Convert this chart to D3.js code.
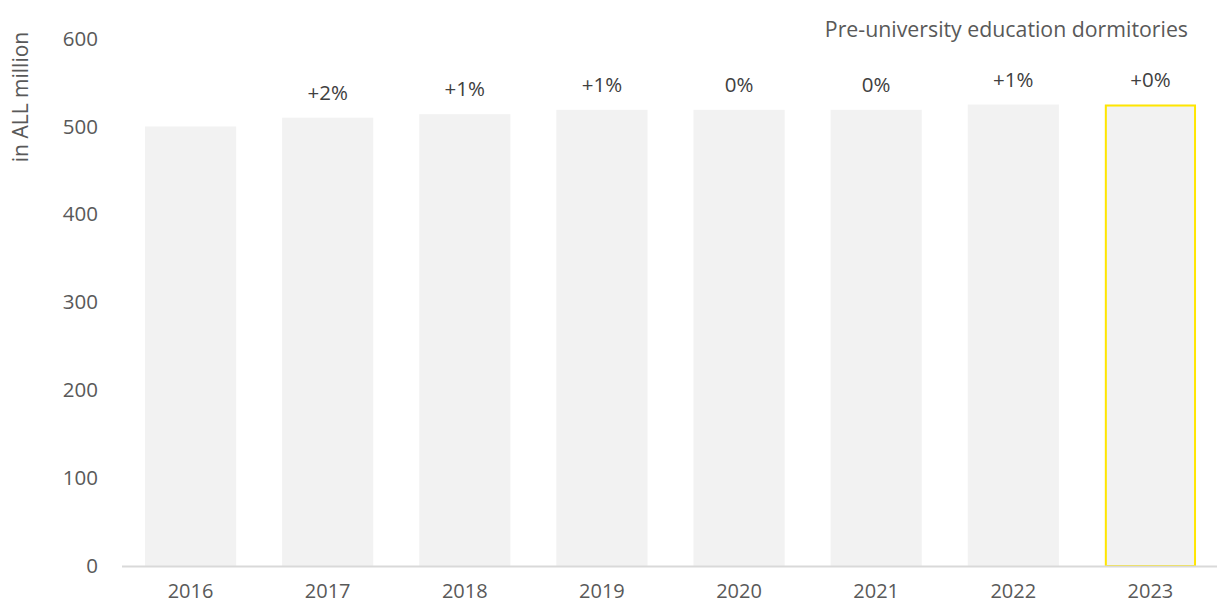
<!DOCTYPE html>
<html>
<head>
<meta charset="utf-8">
<script src="https://cdn.jsdelivr.net/npm/d3@7"></script>
<style>
  html, body { margin: 0; padding: 0; background: #fff; }
  svg { display: block; font-family: "Open Sans", "Noto Sans", sans-serif; }
</style>
</head>
<body>
<svg id="chart" width="1217" height="606"></svg>
<script>
// Annual spending on pre-university education dormitories
const years = ["2016", "2017", "2018", "2019", "2020", "2021", "2022", "2023"];
const values = [500, 510, 514, 519, 519, 519, 525, 525];
const changeLabels = ["", "+2%", "+1%", "+1%", "0%", "0%", "+1%", "+0%"];
const yTicks = [0, 100, 200, 300, 400, 500, 600];
const highlightYear = "2023";

const FONT = "'Open Sans', 'Noto Sans', sans-serif";
const FS = 20.5;

const svg = d3.select("#chart");
const margin = { left: 122 };
const W = 1217;

const x = d3.scaleBand()
  .domain(years)
  .range([margin.left, 1219])
  .paddingInner(0.335)
  .paddingOuter(0.1675);

const y = d3.scaleLinear()
  .domain([0, 600])
  .range([566, 38.6]);

// Bars
svg.append("g")
  .selectAll("rect")
  .data(years)
  .join("rect")
  .attr("x", d => x(d))
  .attr("width", x.bandwidth())
  .attr("y", (d, i) => y(values[i]))
  .attr("height", (d, i) => y(0) - y(values[i]))
  .attr("fill", "#f2f2f2");

// Highlight outline on the latest year
const hi = years.indexOf(highlightYear);
svg.append("rect")
  .attr("x", x(highlightYear) + 1)
  .attr("width", x.bandwidth() - 2)
  .attr("y", y(values[hi]) + 1)
  .attr("height", y(0) - y(values[hi]) - 1)
  .attr("fill", "none")
  .attr("stroke", "#ffe600")
  .attr("stroke-width", 2);

// Baseline
svg.append("line")
  .attr("x1", margin.left).attr("x2", W)
  .attr("y1", y(0) + 0.5).attr("y2", y(0) + 0.5)
  .attr("stroke", "#d9d9d9")
  .attr("stroke-width", 2);

// Y axis tick labels
const yAxis = d3.axisLeft(y).tickValues(yTicks).tickSize(0).tickPadding(0);
const gy = svg.append("g").attr("transform", "translate(98,0)").call(yAxis);
gy.select(".domain").remove();
gy.selectAll("text")
  .attr("fill", "#595959")
  .attr("font-size", FS)
  .attr("font-family", FONT);

// X axis category labels
const xAxis = d3.axisBottom(x).tickSize(0).tickPadding(0);
const gx = svg.append("g").attr("transform", `translate(0,${y(0) + 18})`).call(xAxis);
gx.select(".domain").remove();
gx.selectAll("text")
  .attr("fill", "#595959")
  .attr("font-size", 20)
  .attr("font-family", FONT);

// Year-on-year change labels
svg.append("g")
  .selectAll("text")
  .data(years)
  .join("text")
  .attr("x", d => x(d) + x.bandwidth() / 2)
  .attr("y", (d, i) => y(values[i]) - 18)
  .attr("text-anchor", "middle")
  .attr("fill", "#404040")
  .attr("font-size", FS)
  .text((d, i) => changeLabels[i]);

// Y axis title
svg.append("text")
  .attr("transform", "translate(28,97) rotate(-90)")
  .attr("text-anchor", "middle")
  .attr("fill", "#595959")
  .attr("font-size", 21)
  .text("in ALL million");

// Chart title
svg.append("text")
  .attr("x", 1188)
  .attr("y", 37)
  .attr("text-anchor", "end")
  .attr("fill", "#595959")
  .attr("font-size", 21.3)
  .text("Pre-university education dormitories");
</script>
</body>
</html>
